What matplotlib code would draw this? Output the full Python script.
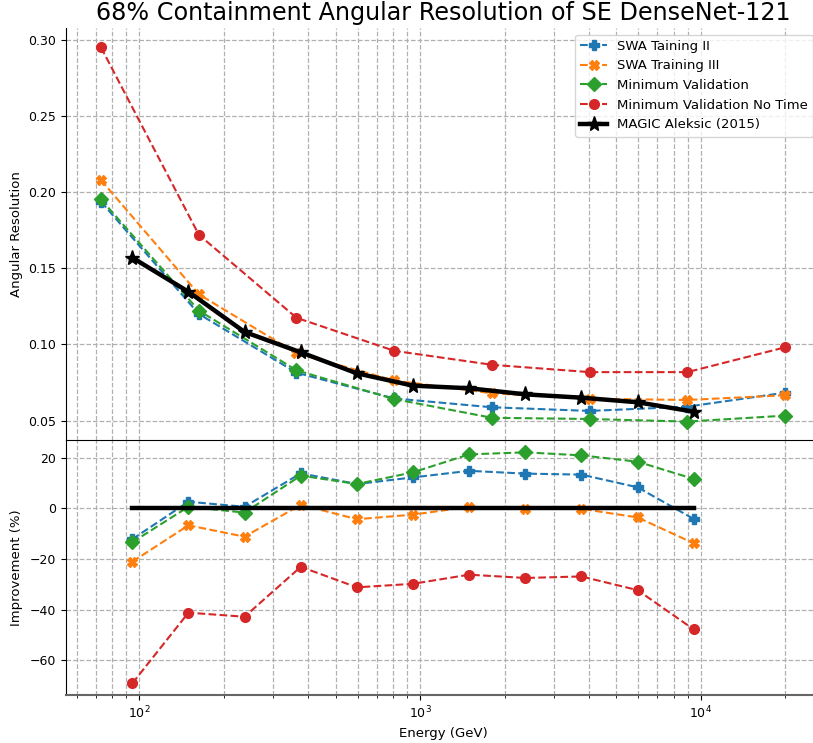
import numpy as np
import matplotlib
matplotlib.use("Agg")
import matplotlib.pyplot as plt

# energies of the network bins (GeV)
energy = [73, 163, 363, 809, 1804, 4020, 8960, 19980]
swa_ii = [0.1938, 0.1200, 0.0814, 0.0645, 0.0587, 0.0563, 0.0591, 0.0683]
swa_iii = [0.2080, 0.1329, 0.0942, 0.0763, 0.0679, 0.0643, 0.0635, 0.0666]
min_val = [0.1953, 0.1222, 0.0830, 0.0641, 0.0518, 0.0510, 0.0493, 0.0532]
min_val_nt = [0.2952, 0.1720, 0.1175, 0.0958, 0.0866, 0.0818, 0.0818, 0.0981]

# MAGIC reference
magic_energy = [94.4, 149.6, 237, 376, 596, 944, 1496, 2371, 3758, 5957, 9440]
magic_res = [0.157, 0.1346, 0.1082, 0.0948, 0.0810, 0.0729, 0.0712, 0.0672, 0.0650, 0.0620, 0.0558]

# improvement over MAGIC (%)
imp_swa_ii = [-12.2, 2.6, 0.6, 13.8, 9.6, 12.2, 14.8, 13.7, 13.3, 8.3, -4.2]
imp_swa_iii = [-21.1, -6.7, -11.2, 1.4, -4.3, -2.5, 0.6, -0.2, -0.2, -3.6, -13.8]
imp_min_val = [-13.4, 0.6, -1.7, 12.9, 9.6, 14.2, 21.3, 22.1, 20.9, 18.4, 11.6]
imp_min_val_nt = [-69.1, -41.2, -42.8, -23.1, -31.2, -29.8, -26.2, -27.5, -26.9, -32.3, -47.8]
imp_magic = [0] * len(magic_energy)

labels = ["SWA Taining II", "SWA Training III", "Minimum Validation",
          "Minimum Validation No Time", "MAGIC Aleksic (2015)"]
colors = ["#1f77b4", "#ff7f0e", "#2ca02c", "#d62728"]
markers = ["P", "X", "D", "o"]

fig = plt.figure(figsize=(8.13, 7.43), dpi=100)
ax1 = fig.add_axes([66 / 813, 303 / 743, 754 / 813, 412 / 743])
ax2 = fig.add_axes([66 / 813, 48 / 743, 754 / 813, 255 / 743], sharex=ax1)

top_series = [swa_ii, swa_iii, min_val, min_val_nt]
for ys, c, m, lab in zip(top_series, colors, markers, labels):
    ax1.plot(energy, ys, ls="--", color=c, marker=m, markersize=7, lw=1.5, label=lab)
ax1.plot(magic_energy, magic_res, color="black", marker="*", markersize=11, lw=3.2, label=labels[4])

bottom_series = [imp_swa_ii, imp_swa_iii, imp_min_val, imp_min_val_nt]
for ys, c, m in zip(bottom_series, colors, markers):
    ax2.plot(magic_energy, ys, ls="--", color=c, marker=m, markersize=7, lw=1.5)
ax2.plot(magic_energy, imp_magic, color="black", lw=3.2)

ax1.set_xscale("log")
ax1.set_xlim(54.8, 26600)
ax1.set_ylim(0.0372, 0.3079)
ax2.set_ylim(-73.7, 26.97)
ax1.set_yticks([0.05, 0.10, 0.15, 0.20, 0.25, 0.30])
ax2.set_yticks([-60, -40, -20, 0, 20])

for ax in (ax1, ax2):
    ax.grid(True, which="both", axis="x", ls="--", color="#b0b0b0", lw=0.9)
    ax.grid(True, which="major", axis="y", ls="--", color="#b0b0b0", lw=0.9)
    ax.spines["right"].set_visible(False)
    ax.tick_params(labelsize=9)

ax1.spines["top"].set_visible(False)
ax1.spines["bottom"].set_visible(False)
ax1.tick_params(axis="x", which="both", length=0, labelbottom=False)
ax2.spines["bottom"].set_color("#666666")
ax2.spines["bottom"].set_linewidth(1.5)

ax1.set_ylabel("Angular Resolution", fontsize=9.5)
ax2.set_ylabel("Improvement (%)", fontsize=9.5)
ax2.set_xlabel("Energy (GeV)", fontsize=9.5)
ax1.yaxis.set_label_coords(-0.057, 0.5)
ax2.yaxis.set_label_coords(-0.057, 0.5)
ax1.set_title("68% Containment Angular Resolution of SE DenseNet-121", fontsize=17.2)
ax1.legend(loc="upper right", fontsize=9.5)

fig.savefig("out.png", dpi=100)
